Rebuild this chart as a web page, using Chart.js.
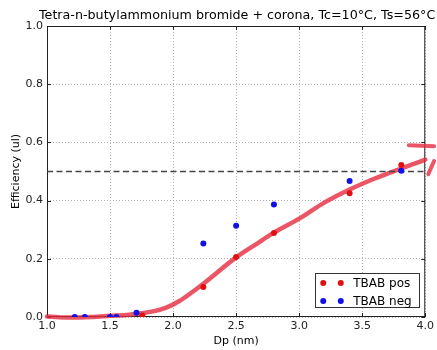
<!DOCTYPE html>
<html>
<head>
<meta charset="utf-8">
<script src="https://cdn.jsdelivr.net/npm/chart.js@4"></script>
<style>
  html, body { margin: 0; padding: 0; background: #fff; }
  #wrap { width: 437px; height: 350px; }
</style>
</head>
<body>
<div id="wrap"><canvas id="effChart" width="437" height="350"></canvas></div>
<script>
/* ── Data ── */
const TITLE = 'Tetra-n-butylammonium bromide + corona, Tc=10°C, Ts=56°C';
const X_TICKS = [1.0, 1.5, 2.0, 2.5, 3.0, 3.5, 4.0];
const Y_TICKS = [0.0, 0.2, 0.4, 0.6, 0.8, 1.0];

const posDp  = [1.756, 2.24, 2.50, 2.80, 3.40, 3.81];
const posEff = [0.005, 0.103, 0.206, 0.289, 0.425, 0.522];

const negDp  = [1.22, 1.30, 1.50, 1.55, 1.71, 2.24, 2.50, 2.80, 3.40, 3.81];
const negEff = [0.0, 0.0, 0.0, 0.0, 0.015, 0.253, 0.314, 0.387, 0.467, 0.503];

// hand-drawn fit curve (runs past the right edge)
const fitDp  = [1.0, 1.1, 1.2, 1.35, 1.5, 1.65, 1.75, 1.85, 1.95, 2.05, 2.15, 2.25, 2.5, 2.65, 2.8, 3.0, 3.2, 3.4, 3.6, 3.82, 4.0, 4.07];
const fitEff = [0.002, -0.001, -0.002, 0.0, 0.004, 0.008, 0.013, 0.02, 0.033, 0.055, 0.085, 0.118, 0.205, 0.248, 0.29, 0.338, 0.393, 0.438, 0.476, 0.512, 0.541, 0.553];

// arrow strokes at the right edge
const arrowUpDp   = [3.87, 4.07];
const arrowUpEff  = [0.590, 0.587];
const arrowLoDp   = [4.024, 4.07];
const arrowLoEff  = [0.491, 0.536];

const refDp  = [1.0, 4.0];
const refEff = [0.5, 0.5];

const pts = (xs, ys) => xs.map((x, i) => ({ x, y: ys[i] }));

const FONT = "'DejaVu Sans', sans-serif";
const CURVE = 'rgba(230,44,64,0.8)';

/* ── Frame, inward ticks, title ── */
const framePlugin = {
    id: 'frame',
    beforeDatasetsDraw(chart) {
        const { ctx, chartArea: a, scales } = chart;
        ctx.save();
        ctx.strokeStyle = '#222';
        ctx.lineWidth = 1;
        ctx.strokeRect(a.left + 0.5, a.top + 0.5, a.right - a.left - 1, a.bottom - a.top - 1);
        const L = 4;
        ctx.beginPath();
        X_TICKS.forEach(v => {
            const px = Math.round(scales.x.getPixelForValue(v)) + 0.5;
            ctx.moveTo(px, a.bottom); ctx.lineTo(px, a.bottom - L);
            ctx.moveTo(px, a.top); ctx.lineTo(px, a.top + L);
        });
        Y_TICKS.forEach(v => {
            const py = Math.round(scales.y.getPixelForValue(v)) + 0.5;
            ctx.moveTo(a.left, py); ctx.lineTo(a.left + L, py);
            ctx.moveTo(a.right, py); ctx.lineTo(a.right - L, py);
        });
        ctx.stroke();
        ctx.restore();
    },
    afterDraw(chart) {
        const { ctx, chartArea: a } = chart;
        ctx.save();
        ctx.fillStyle = '#000';
        ctx.font = '12.7px ' + FONT;
        ctx.textAlign = 'center';
        ctx.textBaseline = 'alphabetic';
        ctx.fillText(TITLE, (a.left + a.right) / 2 + 1, 19);
        ctx.restore();
    }
};

/* ── matplotlib-style legend, two markers per entry ── */
const legendPlugin = {
    id: 'mplLegend',
    afterDatasetsDraw(chart) {
        const { ctx, chartArea: a } = chart;
        const w = 104, h = 34;
        const x0 = a.right - 6 - w, y0 = a.bottom - 10 - h;
        ctx.save();
        ctx.fillStyle = '#fff';
        ctx.fillRect(x0, y0, w, h);
        ctx.strokeStyle = '#333';
        ctx.lineWidth = 1;
        ctx.strokeRect(Math.round(x0) + 0.5, Math.round(y0) + 0.5, w, h);
        const items = [['TBAB pos', '#e01010'], ['TBAB neg', '#1010e8']];
        ctx.font = '12px ' + FONT;
        ctx.textBaseline = 'middle';
        items.forEach(([label, col], i) => {
            const cy = y0 + 10 + i * 18;
            ctx.fillStyle = col;
            [x0 + 8, x0 + 25.5].forEach(cx => {
                ctx.beginPath(); ctx.arc(cx, cy, 3, 0, Math.PI * 2); ctx.fill();
            });
            ctx.fillStyle = '#000';
            ctx.fillText(label, x0 + 38, cy + 0.5);
        });
        ctx.restore();
    }
};

new Chart(document.getElementById('effChart'), {
    type: 'scatter',
    data: {
        datasets: [
            { data: pts(posDp, posEff), backgroundColor: '#e01010', borderWidth: 0, pointRadius: 3 },
            { data: pts(negDp, negEff), backgroundColor: '#1010e8', borderWidth: 0, pointRadius: 3 },
            { type: 'line', data: pts(refDp, refEff), borderColor: '#444', borderWidth: 1.5, borderDash: [6, 3.5], pointRadius: 0, fill: false },
            { type: 'line', data: pts(fitDp, fitEff), borderColor: CURVE, borderWidth: 4.5, pointRadius: 0, cubicInterpolationMode: 'monotone', fill: false, clip: false, borderCapStyle: 'round' },
            { type: 'line', data: pts(arrowUpDp, arrowUpEff), borderColor: CURVE, borderWidth: 4, pointRadius: 0, fill: false, clip: false, borderCapStyle: 'round' },
            { type: 'line', data: pts(arrowLoDp, arrowLoEff), borderColor: CURVE, borderWidth: 4, pointRadius: 0, fill: false, clip: false, borderCapStyle: 'round' }
        ]
    },
    options: {
        responsive: false,
        animation: false,
        events: [],
        layout: { padding: { top: 26, right: 9, left: 0, bottom: 0 } },
        plugins: { legend: { display: false }, tooltip: { enabled: false }, title: { display: false } },
        scales: {
            x: {
                type: 'linear', min: 1, max: 4,
                afterFit: s => { s.height = 33; },
                afterBuildTicks: s => { s.ticks = X_TICKS.map(v => ({ value: v })); },
                ticks: { color: '#222', font: { family: FONT, size: 11 }, padding: 3, maxRotation: 0, callback: v => v.toFixed(1) },
                grid: { color: '#b0b0b0', lineWidth: 1, tickLength: 0, drawTicks: false },
                border: { display: false, dash: [1, 2] },
                title: { display: true, text: 'Dp (nm)', color: '#000', font: { family: FONT, size: 11 }, padding: { top: 0, bottom: 2 } }
            },
            y: {
                type: 'linear', min: 0, max: 1,
                afterFit: s => { s.width = 47; },
                afterBuildTicks: s => { s.ticks = Y_TICKS.map(v => ({ value: v })); },
                ticks: { color: '#222', font: { family: FONT, size: 11 }, padding: 4, callback: v => v.toFixed(1) },
                grid: { color: '#b0b0b0', lineWidth: 1, tickLength: 0, drawTicks: false },
                border: { display: false, dash: [1, 2] },
                title: { display: true, text: 'Efficiency (ul)', color: '#000', font: { family: FONT, size: 11 }, padding: { top: 10, bottom: 0 } }
            }
        }
    },
    plugins: [framePlugin, legendPlugin]
});
</script>
</body>
</html>
